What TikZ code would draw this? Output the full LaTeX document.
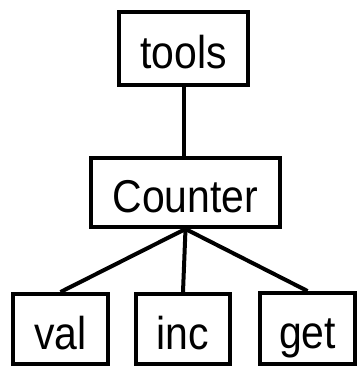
\documentclass[tikz,border=0pt]{standalone}
\usepackage{fontspec}
\setmainfont{Liberation Sans}[FakeStretch=0.89]
\begin{document}
\begin{tikzpicture}[x=1pt,y=-1pt,
  box/.style={draw=black, line width=4pt, inner sep=0pt, fill=white,
    font=\fontsize{46}{55}\selectfont, text height=40pt, text depth=0pt},
  link/.style={draw=black, line width=4pt}]
  \useasboundingbox (0,0) rectangle (358,367);
  \node[box, minimum width=129pt, minimum height=73pt] (tools) at (183.5,48.5) {tools};
  \node[box, minimum width=189pt, minimum height=69pt] (counter) at (185.5,192.5) {Counter};
  \node[box, minimum width=95pt, minimum height=70pt] (val) at (60.5,329) {val};
  \node[box, minimum width=94pt, minimum height=70pt] (inc) at (183,329) {inc};
  \node[box, minimum width=95pt, minimum height=71pt] (get) at (307.5,328.5) {get};
  \draw[link] (tools.south) -- (tools.south |- counter.north);
  \draw[link] (counter.south) -- (val.north);
  \draw[link] (counter.south) -- (inc.north);
  \draw[link] (counter.south) -- (get.north);
\end{tikzpicture}
\end{document}
